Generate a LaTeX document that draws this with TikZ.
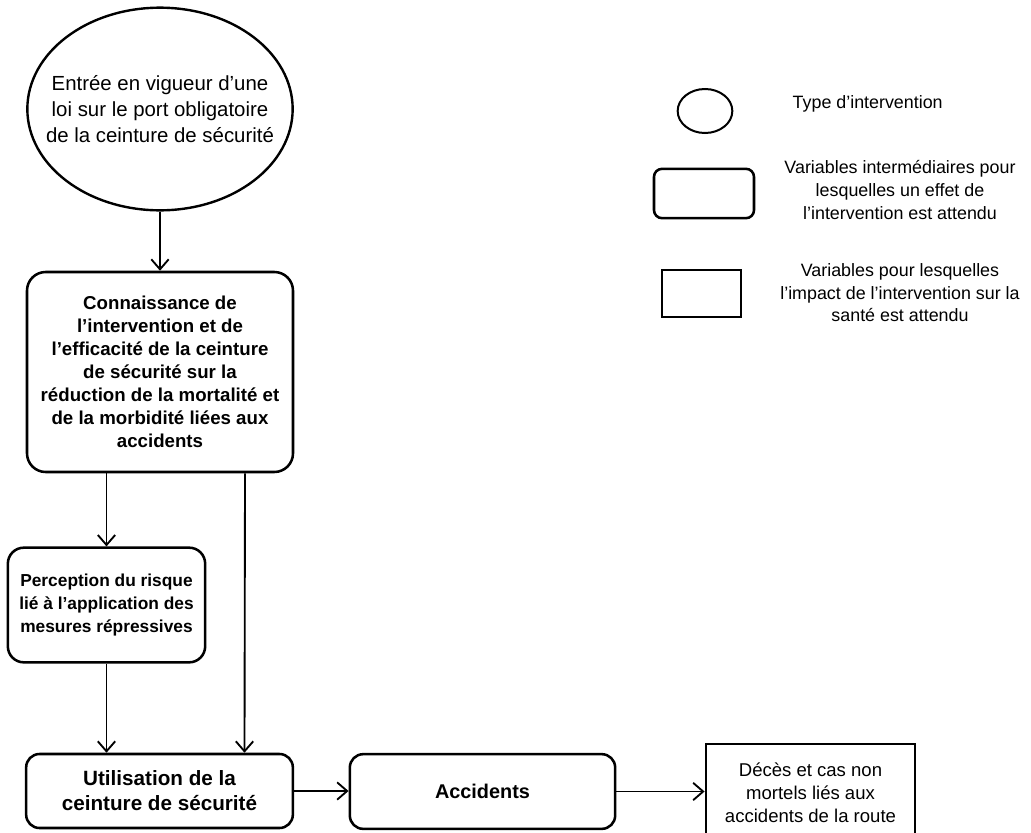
\documentclass[tikz,border=0pt]{standalone}
\usepackage{fontspec}
\setmainfont{Liberation Sans}
\usetikzlibrary{shapes,arrows.meta,positioning}
\tikzstyle{line} = [draw, line width=1.4pt]
\tikzstyle{line2} = [draw, line width=1.4pt, -{Straight Barb[length=7.5pt,width=13pt,line width=1.4pt]}]
\tikzstyle{interv} = [ellipse, draw, line width=1.8pt, align=center, inner sep=0pt]
\tikzstyle{block} = [rectangle, draw, line width=1.9pt, rounded corners=14pt, align=center, inner sep=0pt]
\tikzstyle{outcome} = [rectangle, draw, line width=1.9pt, align=center, inner sep=0pt]
\tikzstyle{legend} = [align=center, font=\fontsize{13.4}{16.9}\selectfont]

\begin{document}
\begin{tikzpicture}[x=0.75pt, y=-0.75pt]
			\useasboundingbox (0,0) rectangle (1031,832);
			% Place nodes
			\node [interv, inner xsep=-16pt, minimum width=199pt, minimum height=152pt, font=\fontsize{15.3}{19.5}\selectfont] (law) at (160,109) {Entrée en vigueur d’une\\loi sur le port obligatoire\\de la ceinture de sécurité};
			\node [block, minimum width=199.5pt, minimum height=150pt, font=\bfseries\fontsize{14}{17.25}\selectfont] (know) at (160,372) {Connaissance de\\l’intervention et de\\l’efficacité de la ceinture\\de sécurité sur la\\réduction de la mortalité et\\de la morbidité liées aux\\accidents};
			\node [block, rounded corners=12pt, minimum width=148pt, minimum height=86pt, font=\bfseries\fontsize{13}{16.9}\selectfont] (risk) at (106.5,605) {Perception du risque\\lié à l’application des\\mesures répressives};
			\node [block, rounded corners=10pt, minimum width=200pt, minimum height=55.5pt, font=\bfseries\fontsize{15.5}{18.75}\selectfont] (use) at (159.5,791) {Utilisation de la\\ceinture de sécurité};
			\node [block, rounded corners=10pt, minimum width=199pt, minimum height=56pt, font=\bfseries\fontsize{14.9}{18}\selectfont] (acc) at (482.5,791.5) {Accidents};
			\node [outcome, minimum width=157pt, minimum height=73.5pt, font=\fontsize{13.9}{17.25}\selectfont] (death) at (810.5,793) {Décès et cas non\\mortels liés aux\\accidents de la route};
			
			% Legend
			\node [interv, line width=1.5pt, minimum width=41pt, minimum height=33pt] (keyint) at (705,111) {};
			\node [block, rounded corners=6pt, minimum width=75pt, minimum height=37pt] (keyvar) at (704,193.5) {};
			\node [outcome, minimum width=59pt, minimum height=35pt] (keyout) at (701.5,293.5) {};
			\node [legend, anchor=west] (keyinttxt) at (788,104) {Type d’intervention};
			\node [legend] (keyvartxt) at (900,190) {Variables intermédiaires pour\\lesquelles un effet de\\l’intervention est attendu};
			\node [legend] (keyouttxt) at (900,293) {Variables pour lesquelles\\l’impact de l’intervention sur la\\santé est attendu};
			
			% Draw edges
			\path [line2] (law) -- (know);
			\path [line2] (know.south -| risk) -- (risk);
			\path [line2] ([xshift=63.75pt]know.south) -- ([xshift=63.75pt]use.north);
			\path [line2] (risk) -- (risk |- use.north);
			\path [line2] (use.east) -- (use.east -| acc.west);
			\path [line2] (acc.east) -- (acc.east -| death.west);
		\end{tikzpicture}
\end{document}
